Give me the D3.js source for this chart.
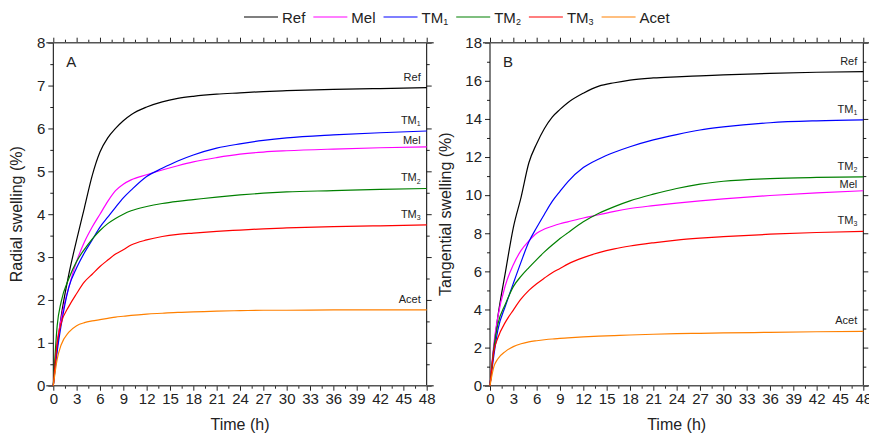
<!DOCTYPE html>
<html>
<head>
<meta charset="utf-8">
<script src="https://cdn.jsdelivr.net/npm/d3@7"></script>
<style>
  body { margin: 0; background: #fff; }
  text { font-family: "Liberation Sans", Arial, sans-serif; fill: #222; }
</style>
</head>
<body>
<svg id="chart" width="869" height="434"></svg>
<script>
// time points (h)
const hours = [0, 0.5, 1, 2, 3, 4, 5, 6, 7, 8, 9, 10, 12, 14, 16, 18, 21, 24, 27, 30, 36, 42, 48];

const seriesNames = ["Ref", "Mel", "TM1", "TM2", "TM3", "Acet"];
const seriesColors = ["#000000", "#ff00ff", "#0000ff", "#008000", "#ff0000", "#ff8000"];

// A - radial swelling (%)
const radialRef  = [0, 0.9, 1.6, 2.6, 3.4, 4.15, 4.9, 5.45, 5.78, 6.0, 6.18, 6.32, 6.5, 6.62, 6.7, 6.75, 6.8, 6.83, 6.86, 6.88, 6.91, 6.93, 6.95];
const radialMel  = [0, 1.0, 1.55, 2.3, 2.9, 3.35, 3.7, 4.0, 4.3, 4.55, 4.7, 4.8, 4.92, 5.03, 5.13, 5.22, 5.32, 5.4, 5.45, 5.48, 5.52, 5.55, 5.57];
const radialTM1  = [0, 0.8, 1.4, 2.3, 2.75, 3.1, 3.4, 3.7, 3.93, 4.16, 4.38, 4.56, 4.88, 5.07, 5.24, 5.38, 5.54, 5.64, 5.72, 5.78, 5.85, 5.9, 5.94];
const radialTM2  = [0, 1.4, 1.95, 2.5, 2.9, 3.18, 3.42, 3.62, 3.78, 3.9, 4.0, 4.08, 4.18, 4.25, 4.3, 4.34, 4.4, 4.45, 4.49, 4.52, 4.55, 4.58, 4.6];
const radialTM3  = [0, 1.0, 1.45, 1.85, 2.15, 2.42, 2.6, 2.78, 2.93, 3.07, 3.17, 3.28, 3.4, 3.48, 3.53, 3.56, 3.6, 3.63, 3.66, 3.68, 3.71, 3.73, 3.75];
const radialAcet = [0, 0.62, 0.95, 1.25, 1.4, 1.47, 1.51, 1.54, 1.57, 1.6, 1.62, 1.64, 1.67, 1.69, 1.71, 1.72, 1.74, 1.75, 1.76, 1.76, 1.77, 1.77, 1.77];

// B - tangential swelling (%)
const tangRef  = [0, 2.0, 3.6, 6.0, 8.3, 9.9, 11.7, 12.7, 13.5, 14.1, 14.5, 14.85, 15.35, 15.72, 15.9, 16.04, 16.15, 16.21, 16.26, 16.31, 16.39, 16.45, 16.48];
const tangMel  = [0, 2.2, 3.6, 5.3, 6.35, 7.1, 7.6, 8.0, 8.22, 8.37, 8.5, 8.6, 8.8, 8.97, 9.15, 9.3, 9.45, 9.58, 9.7, 9.8, 9.98, 10.12, 10.23];
const tangTM1  = [0, 1.6, 2.9, 4.2, 5.37, 6.5, 7.55, 8.3, 9.0, 9.67, 10.2, 10.7, 11.45, 11.9, 12.25, 12.54, 12.9, 13.18, 13.42, 13.58, 13.8, 13.9, 13.95];
const tangTM2  = [0, 2.0, 3.2, 4.3, 5.2, 5.75, 6.2, 6.62, 7.02, 7.38, 7.72, 8.02, 8.6, 9.05, 9.4, 9.7, 10.05, 10.35, 10.58, 10.73, 10.87, 10.93, 10.96];
const tangTM3  = [0, 1.8, 2.5, 3.35, 3.97, 4.55, 5.0, 5.35, 5.65, 5.93, 6.15, 6.38, 6.72, 6.98, 7.18, 7.33, 7.5, 7.64, 7.74, 7.82, 7.95, 8.04, 8.1];
const tangAcet = [0, 1.0, 1.4, 1.8, 2.05, 2.2, 2.3, 2.36, 2.41, 2.45, 2.48, 2.51, 2.56, 2.6, 2.63, 2.66, 2.7, 2.73, 2.75, 2.77, 2.8, 2.83, 2.85];

const svg = d3.select("#chart");

// write "TM1" as TM with subscript 1
function setName(sel, name, subSize) {
  const m = name.match(/^(TM)(\d)$/);
  if (!m) { sel.text(name); return; }
  sel.text(m[1]);
  sel.append("tspan").attr("dy", "0.3em").attr("font-size", subSize).text(m[2]);
}

function drawPanel(opt) {
  const { left, top, width, height, yMax, yMajor, letter, title, series } = opt;
  const g = svg.append("g").attr("transform", `translate(${left},${top})`);

  const x = d3.scaleLinear().domain([0, 48]).range([0, width]);
  const y = d3.scaleLinear().domain([0, yMax]).range([height, 0]);

  const xMaj = d3.range(0, 49, 3), xMin = d3.range(1.5, 48, 3);
  const yMaj = d3.range(0, yMax + 0.001, yMajor), yMin = d3.range(yMajor / 2, yMax, yMajor);

  // bottom axis
  g.append("g").attr("class", "ax").attr("transform", `translate(0,${height})`)
    .call(d3.axisBottom(x).tickValues(xMaj).tickSize(5).tickPadding(3).tickFormat(d3.format("d")));
  g.append("g").attr("class", "ax").attr("transform", `translate(0,${height})`)
    .call(d3.axisBottom(x).tickValues(xMin).tickSize(3).tickFormat(""));
  // top axis
  g.append("g").attr("class", "ax").call(d3.axisTop(x).tickValues(xMaj).tickSize(5).tickFormat(""));
  g.append("g").attr("class", "ax").call(d3.axisTop(x).tickValues(xMin).tickSize(3).tickFormat(""));
  // left axis
  g.append("g").attr("class", "ax")
    .call(d3.axisLeft(y).tickValues(yMaj).tickSize(5).tickPadding(3).tickFormat(d3.format("d")));
  g.append("g").attr("class", "ax").call(d3.axisLeft(y).tickValues(yMin).tickSize(3).tickFormat(""));
  // right axis
  g.append("g").attr("class", "ax").attr("transform", `translate(${width},0)`)
    .call(d3.axisRight(y).tickValues(yMaj).tickSize(5).tickFormat(""));
  g.append("g").attr("class", "ax").attr("transform", `translate(${width},0)`)
    .call(d3.axisRight(y).tickValues(yMin).tickSize(3).tickFormat(""));

  g.selectAll(".ax .domain").remove();
  g.selectAll(".ax line").attr("stroke", "#222");
  g.selectAll(".ax text").attr("font-size", 15).attr("fill", "#222")
    .style("font-family", '"Liberation Sans", Arial, sans-serif');

  // frame
  g.append("line").attr("x1", 0).attr("x2", 0).attr("y1", 0).attr("y2", height).attr("stroke", "#000");
  g.append("line").attr("x1", width).attr("x2", width).attr("y1", 0).attr("y2", height).attr("stroke", "#000");
  g.append("line").attr("x1", -7).attr("x2", width + 7).attr("y1", 0).attr("y2", 0).attr("stroke", "#555").attr("stroke-width", 1.6);
  g.append("line").attr("x1", -7).attr("x2", width + 7).attr("y1", height).attr("y2", height).attr("stroke", "#555").attr("stroke-width", 1.6);

  // curves
  const line = d3.line().x((d, i) => x(hours[i])).y(d => y(d)).curve(d3.curveMonotoneX);
  series.forEach((vals, i) => {
    g.append("path").datum(vals).attr("d", line)
      .attr("fill", "none").attr("stroke", seriesColors[i]).attr("stroke-width", 1.2);
  });

  // end labels
  series.forEach((vals, i) => {
    const name = seriesNames[i];
    const t = g.append("text")
      .attr("x", width - 6)
      .attr("y", y(vals[vals.length - 1]) - (name === "Mel" ? 3 : 7))
      .attr("text-anchor", "end").attr("font-size", 11);
    setName(t, name, 7);
  });

  // panel letter
  g.append("text").attr("x", 13).attr("y", 24).attr("font-size", 15).text(letter);

  // axis titles
  g.append("text").attr("x", width / 2).attr("y", height + 44)
    .attr("text-anchor", "middle").attr("font-size", 16).text("Time (h)");
  g.append("text").attr("transform", `translate(${opt.titleX},${height / 2}) rotate(-90)`)
    .attr("text-anchor", "middle").attr("font-size", 16).text(title);
}

drawPanel({
  left: 53.3, top: 42.7, width: 373.4, height: 343, yMax: 8, yMajor: 1,
  letter: "A", title: "Radial swelling (%)", titleX: -31,
  series: [radialRef, radialMel, radialTM1, radialTM2, radialTM3, radialAcet]
});
drawPanel({
  left: 490, top: 42.7, width: 373.3, height: 343, yMax: 18, yMajor: 2,
  letter: "B", title: "Tangential swelling (%)", titleX: -39,
  series: [tangRef, tangMel, tangTM1, tangTM2, tangTM3, tangAcet]
});

// legend
const legend = svg.append("g").attr("transform", "translate(244,17)");
let lx = 0;
seriesNames.forEach((name, i) => {
  legend.append("line").attr("x1", lx).attr("x2", lx + 34).attr("y1", 0).attr("y2", 0)
    .attr("stroke", seriesColors[i]).attr("stroke-width", 1.2);
  const t = legend.append("text").attr("x", lx + 38).attr("y", 5.5).attr("font-size", 15);
  setName(t, name, 9);
  lx += 38 + t.node().getComputedTextLength() + 8;
});
</script>
</body>
</html>
